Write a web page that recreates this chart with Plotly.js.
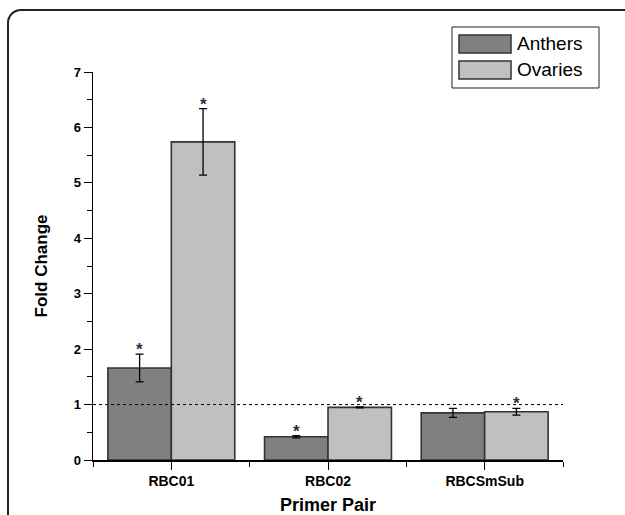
<!DOCTYPE html>
<html>
<head>
<meta charset="utf-8">
<script src="https://cdn.plot.ly/plotly-3.0.1.min.js"></script>
<style>
  html, body { margin:0; padding:0; width:625px; height:515px; overflow:hidden; background:#fff; }
  #wrap { position:relative; width:625px; height:515px; overflow:hidden; }
  #frame { position:absolute; left:7px; top:9px; width:700px; height:600px; border:2px solid #222; border-top-left-radius:14px; box-sizing:border-box; pointer-events:none; z-index:2; }
  #chart { position:absolute; left:0; top:0; width:625px; height:515px; }
</style>
</head>
<body>
<div id="wrap">
  <div id="chart"></div>
  <div id="frame"></div>
</div>
<script>
// ---- data ----
var categories = ["RBC01", "RBC02", "RBCSmSub"];
var seriesNames = ["Anthers", "Ovaries"];
var anthers = [1.66, 0.42, 0.85];
var anthersErr = [0.25, 0.02, 0.08];
var ovaries = [5.74, 0.95, 0.87];
var ovariesErr = [0.60, 0.01, 0.06];
var anthersStar = [true, true, false];
var ovariesStar = [true, true, true];
var yTicks = [0, 1, 2, 3, 4, 5, 6, 7];

var fillColors = ["#808080", "#c0c0c0"];
var outline = "#333333";
var starColor = "#2e2a48";

var xIdx = categories.map(function(_, i){ return i; });

function barTrace(name, vals, errs, color) {
  return {
    type: "bar", name: name, x: xIdx, y: vals,
    marker: { color: color, line: { color: outline, width: 1.6 } },
    error_y: { type: "data", array: errs, visible: true, color: "#000", thickness: 1.3, width: 4 },
    showlegend: false
  };
}

var traces = [
  barTrace(seriesNames[0], anthers, anthersErr, fillColors[0]),
  barTrace(seriesNames[1], ovaries, ovariesErr, fillColors[1])
];

var font = "'Liberation Sans', Arial, sans-serif";
var annotations = [];
var bw = 0.405;
function addStars(vals, errs, flags, offset) {
  for (var i = 0; i < vals.length; i++) {
    if (!flags[i]) continue;
    annotations.push({
      x: i + offset, y: vals[i] + errs[i], xref: "x", yref: "y",
      text: "<b>*</b>", showarrow: false, yanchor: "bottom", yshift: -7,
      font: { family: font, size: 17, color: starColor }
    });
  }
}
addStars(anthers, anthersErr, anthersStar, -bw / 2);
addStars(ovaries, ovariesErr, ovariesStar, bw / 2);

// dotted reference line and manual legend
var shapes = [
  { type: "line", xref: "paper", yref: "y", x0: 0, x1: 1, y0: 1, y1: 1,
    line: { color: "#000", width: 1, dash: "dot" }, layer: "above" },
  { type: "rect", xref: "paper", yref: "paper", x0: 0.7638, x1: 1.0766, y0: 0.9588, y1: 1.116,
    line: { color: "#222", width: 1 }, fillcolor: "#fff" },
  { type: "rect", xref: "paper", yref: "paper", x0: 0.7787, x1: 0.8894, y0: 1.049, y1: 1.0954,
    line: { color: outline, width: 1.5 }, fillcolor: fillColors[0] },
  { type: "rect", xref: "paper", yref: "paper", x0: 0.7787, x1: 0.8894, y0: 0.982, y1: 1.0284,
    line: { color: outline, width: 1.5 }, fillcolor: fillColors[1] }
];
annotations.push({ xref: "paper", yref: "paper", x: 0.898, y: 1.0722, xanchor: "left", yanchor: "middle",
  text: seriesNames[0], showarrow: false, font: { family: font, size: 19, color: "#000" } });
annotations.push({ xref: "paper", yref: "paper", x: 0.898, y: 1.0052, xanchor: "left", yanchor: "middle",
  text: seriesNames[1], showarrow: false, font: { family: font, size: 19, color: "#000" } });

var layout = {
  width: 625, height: 515,
  margin: { l: 93, r: 62, t: 72, b: 55, pad: 0 },
  paper_bgcolor: "#fff", plot_bgcolor: "#fff",
  barmode: "group", bargap: 0.19, bargroupgap: 0,
  showlegend: false,
  xaxis: {
    range: [-0.5, 2.5], tickmode: "array", tickvals: xIdx, ticktext: categories,
    ticks: "outside", ticklen: 8, tickwidth: 1, tickcolor: "#000",
    minor: { tickmode: "linear", tick0: -0.5, dtick: 1, ticks: "outside", ticklen: 5, tickwidth: 1, tickcolor: "#000", showgrid: false },
    showline: true, linecolor: "#000", linewidth: 1.5, showgrid: false, zeroline: false,
    tickfont: { family: font, size: 14, color: "#000", weight: "bold" },
    title: { text: "<b>Primer Pair</b>", font: { family: font, size: 18, color: "#000" }, standoff: 22 },
    automargin: false, fixedrange: true
  },
  yaxis: {
    range: [0, 7], tickmode: "array", tickvals: yTicks,
    ticks: "outside", ticklen: 8, tickwidth: 1, tickcolor: "#000",
    minor: { tickmode: "linear", tick0: 0, dtick: 0.5, ticks: "outside", ticklen: 5, tickwidth: 1, tickcolor: "#000", showgrid: false },
    showline: true, linecolor: "#000", linewidth: 1.5, showgrid: false, zeroline: false,
    tickfont: { family: font, size: 13, color: "#000", weight: "bold" },
    title: { text: "<b>Fold Change</b>", font: { family: font, size: 17, color: "#000" }, standoff: 21 },
    automargin: false, fixedrange: true
  },
  shapes: shapes,
  annotations: annotations
};

Plotly.newPlot("chart", traces, layout, { staticPlot: true, displayModeBar: false });
</script>
</body>
</html>
